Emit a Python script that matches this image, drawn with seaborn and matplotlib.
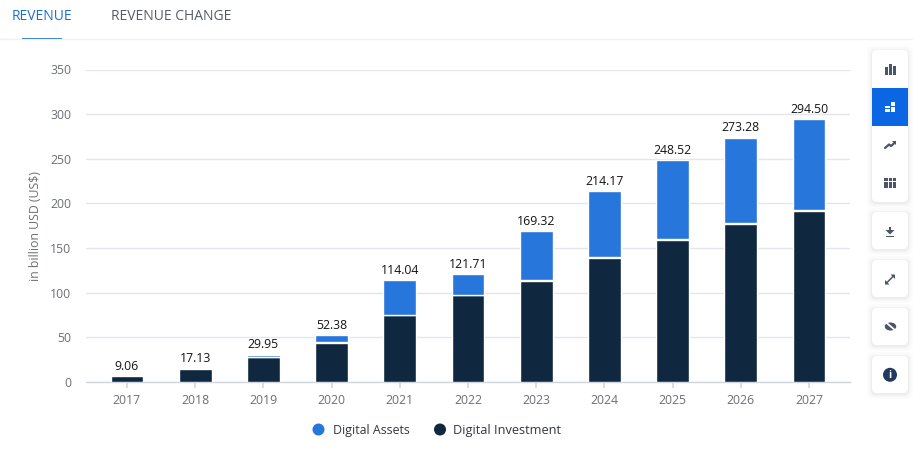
import matplotlib
matplotlib.use("Agg")
import matplotlib.pyplot as plt
from matplotlib.patches import FancyBboxPatch, Rectangle, Circle, Polygon, Ellipse
from matplotlib.lines import Line2D
import seaborn as sns
import pandas as pd

years = ["2017","2018","2019","2020","2021","2022","2023","2024","2025","2026","2027"]
investment = [6.7, 15.0, 27.5, 44.0, 74.5, 97.0, 113.0, 139.0, 159.0, 177.0, 192.0]
assets = [0.0, 0.0, 2.0, 7.5, 38.5, 23.0, 55.0, 74.0, 88.5, 95.5, 101.5]
total_labels = ["9.06","17.13","29.95","52.38","114.04","121.71","169.32","214.17","248.52","273.28","294.50"]
yticks = [0, 50, 100, 150, 200, 250, 300, 350]
NAVY = "#0f2840"
BLUE = "#2776dc"
GRID = "#e3e7ec"
TICK = "#6b6f76"

sns.set_theme(style="white")
plt.rcParams["font.family"] = ["Open Sans", "DejaVu Sans"]
W, H = 913, 467
fig = plt.figure(figsize=(W/100, H/100), dpi=100, facecolor="white")
ax = fig.add_axes([86/W, 1-382/H, (850-86)/W, (382-69.5)/H])
df = pd.DataFrame({"year": years, "inv": investment, "assets": assets})
sns.barplot(data=df, x="year", y="inv", color=NAVY, width=0.48, saturation=1, ax=ax, zorder=3)
sns.barplot(data=df, x="year", y="assets", bottom=df["inv"]+0.9, color=BLUE, width=0.48, saturation=1, ax=ax, zorder=3)
ax.set_xlim(-0.6, 10.6)
ax.set_ylim(0, 350)
ax.set_yticks(yticks)
ax.yaxis.grid(True, color=GRID, lw=1)
ax.set_axisbelow(True)
for s in ["top", "left", "right"]:
    ax.spines[s].set_visible(False)
ax.spines["bottom"].set_color("#d0d6de")
ax.spines["bottom"].set_linewidth(1)
ax.tick_params(axis="x", length=4, color="#d5dae0", labelsize=8.8, labelcolor=TICK, pad=5, bottom=True)
ax.tick_params(axis="y", length=0, labelsize=8.8, labelcolor=TICK, pad=10.5)
ax.set_xlabel("")
ax.set_ylabel("in billion USD (US$)", fontsize=8.8, color=TICK, labelpad=6)
for i, lab in enumerate(total_labels):
    top = investment[i] + (assets[i] + 0.9 if assets[i] else 0)
    ax.annotate(lab, (i, top), xytext=(0, 2.5), textcoords="offset points", ha="center", va="bottom",
                fontsize=8.8, color="#141414", fontweight=500)

# page chrome: tabs, legend, toolbar, in pixel coordinates
ov = fig.add_axes([0, 0, 1, 1], facecolor="none", zorder=5)
ov.set_xlim(0, W); ov.set_ylim(H, 0); ov.axis("off")
ov.text(42, 16, "REVENUE", color="#1a6fd0", fontsize=10, ha="center", va="center", fontweight=500)
ov.text(171.5, 16, "REVENUE CHANGE", color="#555b6b", fontsize=10, ha="center", va="center", fontweight=500)
ov.add_line(Line2D([0, 913], [39, 39], color="#eff1f4", lw=1))
ov.add_patch(Rectangle((22, 38), 40, 2, color="#1a6fd0", lw=0))

ov.add_patch(Circle((318.5, 429.5), 6, color=BLUE, lw=0))
ov.text(333, 430.5, "Digital Assets", color="#33383f", fontsize=8.9, va="center")
ov.add_patch(Circle((440, 429.5), 6, color=NAVY, lw=0))
ov.text(453, 430.5, "Digital Investment", color="#33383f", fontsize=9.2, va="center")

def card(x, y, w, h):
    for grow, alpha in [(5, .012), (3.5, .015), (2, .02), (1, .025)]:
        ov.add_patch(FancyBboxPatch((x-grow, y-grow+1), w+2*grow, h+2*grow,
                     boxstyle="round,pad=0,rounding_size=6", fc="#000000", ec="none", alpha=alpha))
    ov.add_patch(FancyBboxPatch((x, y), w, h, boxstyle="round,pad=0,rounding_size=5", fc="white", ec="none"))

IC = "#4a5668"
card(872, 50, 36, 152)
card(872, 212, 36, 37)
card(872, 260, 36, 37)
card(872, 308, 36, 37)
card(872, 356, 36, 37)
ov.add_patch(Rectangle((872, 88), 36, 38, color="#0b66e4", lw=0))
# bar-chart icon
for x, y0 in [(884.5, 67), (888.5, 63.5), (892.5, 66)]:
    ov.add_patch(Rectangle((x, y0), 3.2, 75-y0, color=IC, lw=0))
# stacked icon (active)
for x, y0, w, h in [(885, 105.7, 4.5, 2.6), (885, 109, 4.5, 2.7), (891, 101.7, 4.3, 4), (891, 106.7, 4.3, 5)]:
    ov.add_patch(Rectangle((x, y0), w, h, color="white", lw=0))
# trend icon
ov.add_line(Line2D([885, 889, 891, 895], [148, 144.5, 146, 142.5], color=IC, lw=1.6))
ov.add_patch(Polygon([[892, 141], [896, 141], [896, 145]], color=IC, lw=0))
# table icon
for r in range(3):
    for c in range(3):
        ov.add_patch(Rectangle((884.3+c*4.2, 178+r*3.6), 3.6 if c < 2 else 3, 2.9, color=IC, lw=0))
# download
ov.add_patch(Rectangle((888.7, 226.5), 2.6, 4.5, color=IC, lw=0))
ov.add_patch(Polygon([[885.5, 230], [894.5, 230], [890, 234.5]], color=IC, lw=0))
ov.add_patch(Rectangle((886, 235.7), 8, 1.5, color=IC, lw=0))
# expand
ov.add_line(Line2D([886.5, 893.5], [283, 276], color=IC, lw=1.1))
ov.add_patch(Polygon([[885, 284.5], [885, 280], [889.5, 284.5]], color=IC, lw=0))
ov.add_patch(Polygon([[895, 274.5], [895, 279], [890.5, 274.5]], color=IC, lw=0))
# eye
ov.add_patch(Ellipse((890.5, 326.5), 11.5, 8, fc=IC, ec="none"))
ov.add_line(Line2D([885.5, 896], [322, 331], color="white", lw=1.3))
# info
ov.add_patch(Circle((890, 374.8), 7, color="#223a5e", lw=0))
ov.text(890, 375, "i", color="white", fontsize=7.5, fontweight="bold", ha="center", va="center")

fig.savefig("out.png", dpi=100, facecolor="white")
